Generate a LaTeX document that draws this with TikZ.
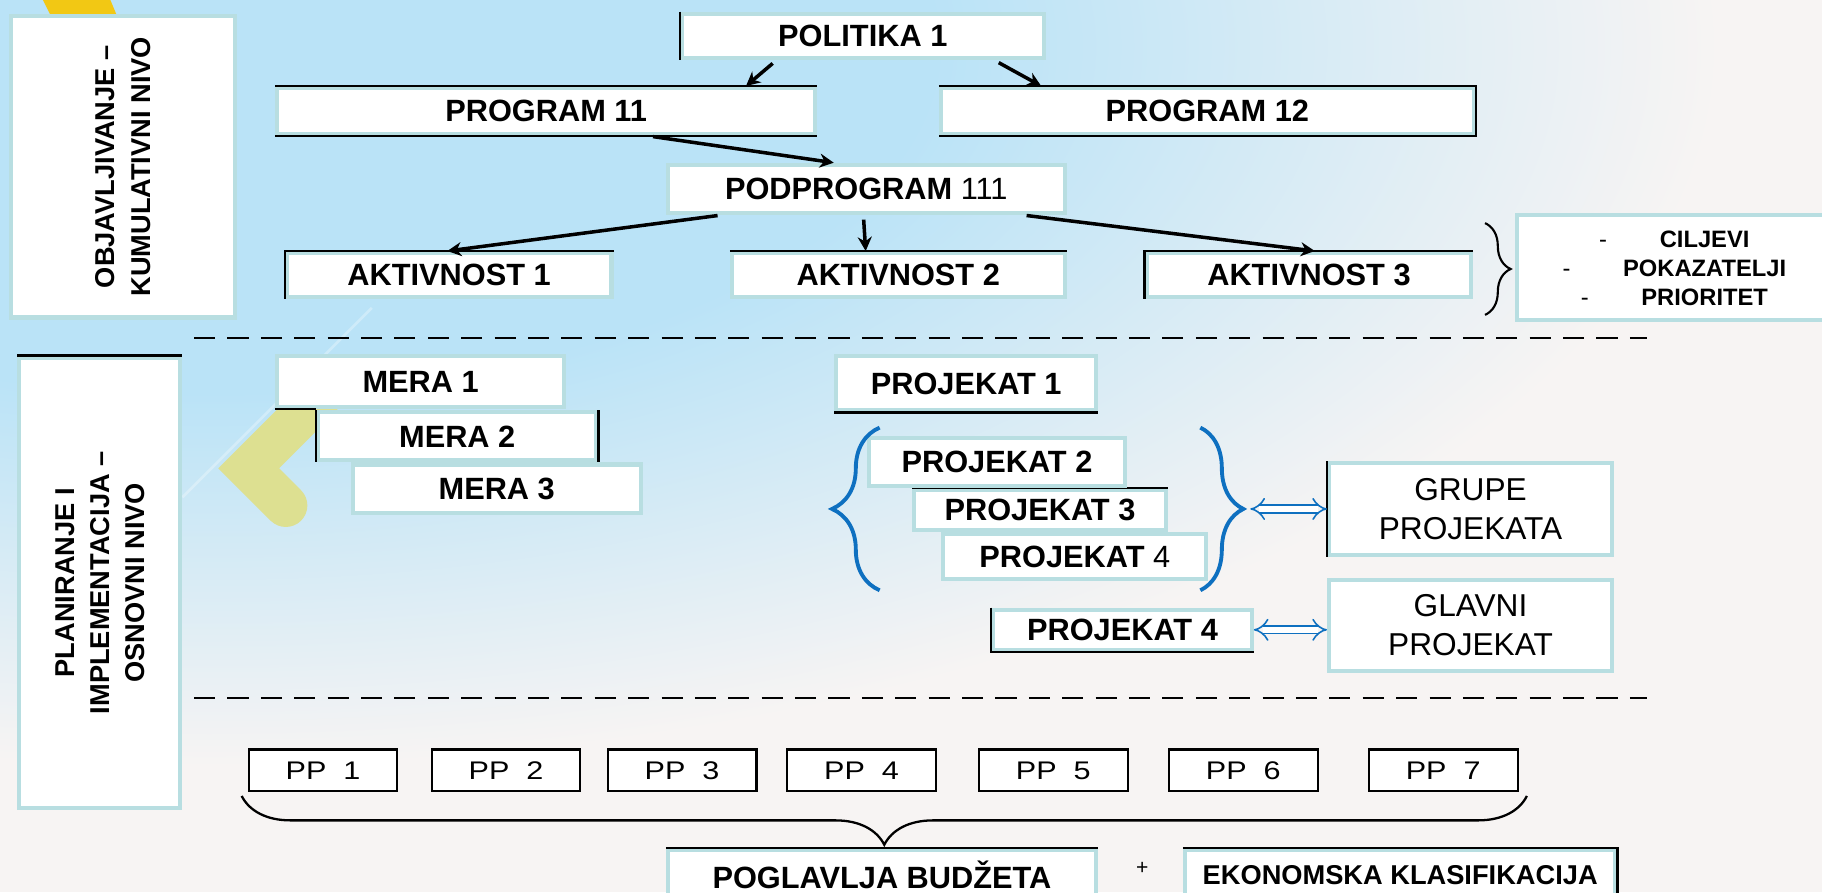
\documentclass[tikz,border=0pt]{standalone}
\usepackage{fontspec}
\setmainfont{Liberation Sans}
\newfontfamily\ppfont{Liberation Sans}[FakeStretch=1.2]
\usetikzlibrary{arrows.meta, decorations.pathreplacing}
\newlength\un
\setlength\un{0.02324cm}
\definecolor{rimteal}{RGB}{184,222,225}
\definecolor{bgblue}{RGB}{186,227,247}
\definecolor{bgpale}{RGB}{247,244,243}
\definecolor{braceblue}{RGB}{14,112,192}
\definecolor{chevron}{RGB}{221,224,145}
\definecolor{gold}{RGB}{242,200,20}
\pgfdeclareradialshading{bgglow}{\pgfpoint{0bp}{0bp}}{color(0bp)=(bgblue); color(12bp)=(bgblue); color(25bp)=(bgpale); color(50bp)=(bgpale)}

\begin{document}
\begin{tikzpicture}[x=\un, y=-\un,
    box/.style={draw=rimteal, line width=2.3pt, fill=white, inner sep=0pt, font=\fontsize{17.5}{20}\selectfont\bfseries},
    sidebox/.style={box, rotate=90, align=center, font=\fontsize{15.5}{20}\selectfont\bfseries},
    namebox/.style={box, align=center, font=\fontsize{18}{22}\selectfont},
    ppbox/.style={draw, line width=1.2pt, fill=white, minimum width=128\un, minimum height=36\un, inner sep=0pt, font=\ppfont\fontsize{14.5}{16}\selectfont},
    rim/.style={line width=1.3pt},
    arrow/.style={-{Stealth[length=8pt,width=8pt]}, line width=2pt, shorten <=4\un},
    sep/.style={line width=1.2pt, dash pattern=on 12pt off 7pt},
    curly/.style={decorate, decoration={brace, amplitude=#1}},
    dbl/.style={draw=braceblue, line width=0.9pt, double=white, double distance=3.5pt, {Implies}-{Implies}}
]
    \useasboundingbox (0,0) rectangle (1568,768);
    \clip (0,0) rectangle (1568,768);
    \fill[bgpale] (0,0) rectangle (1568,768);
    \shade[shading=bgglow] (180,40) ellipse (1300 and 620);
    \fill[gold] (37,0) -- (95,0) -- (100,12) -- (43,12) -- cycle;
    \draw[white, opacity=.3, line width=1.5pt] (157,428) -- (320,265);
    \draw[chevron, line width=37\un, line join=miter, line cap=round] (275,342) -- (214,403) -- (246,435);

    \node[sidebox, minimum width=259.5\un, minimum height=192.5\un] (obj) at (106,143.5) {OBJAVLJIVANJE --\\KUMULATIVNI NIVO};
    \node[sidebox, minimum width=387.5\un, minimum height=138.5\un] (plan) at (86,501.5) {PLANIRANJE I\\IMPLEMENTACIJA --\\OSNOVNI NIVO};

    \node[box, minimum width=311.5\un, minimum height=38.5\un] (pol) at (742.5,31) {POLITIKA 1};
    \node[box, minimum width=462.5\un, minimum height=39.5\un] (p11) at (470,95.5) {PROGRAM 11};
    \node[box, minimum width=458.5\un, minimum height=39.5\un] (p12) at (1039,95.5) {PROGRAM 12};
    \node[box, minimum width=341.5\un, minimum height=41.5\un] (pod) at (745.5,162.5) {PODPROGRAM {\mdseries 111}};
    \node[box, minimum width=279.5\un, minimum height=37.5\un] (a1) at (386.5,236.5) {AKTIVNOST 1};
    \node[box, minimum width=286.5\un, minimum height=37.5\un] (a2) at (773,236.5) {AKTIVNOST 2};
    \node[box, minimum width=279.5\un, minimum height=37.5\un] (a3) at (1126.5,236.5) {AKTIVNOST 3};
    \node[box, minimum width=312.5\un, minimum height=90.5\un] (goals) at (1462,230) {};
    \node[align=center, font=\fontsize{13.5}{16.5}\selectfont\bfseries] (goaltxt) at (1467,231)
        {\llap{\mdseries-\hspace{30pt}}CILJEVI\\\llap{\mdseries-\hspace{30pt}}POKAZATELJI\\\llap{\mdseries-\hspace{30pt}}PRIORITET};

    \node[box, minimum width=246.5\un, minimum height=43.5\un] (mera1) at (362,328.5) {MERA 1};
    \node[box, minimum width=239.5\un, minimum height=41.5\un] (mera2) at (393.5,375.5) {MERA 2};
    \node[box, minimum width=247.5\un, minimum height=41.5\un] (mera3) at (427.5,420.5) {MERA 3};

    \node[box, minimum width=223.5\un, minimum height=46.5\un] (pr1) at (831.5,330) {PROJEKAT 1};
    \node[box, minimum width=226.5\un, minimum height=38.5\un] (pr4) at (925,479) {PROJEKAT {\mdseries 4}};
    \node[box, minimum width=216.5\un, minimum height=34.5\un] (pr3) at (895,439) {PROJEKAT 3};
    \draw[rim] (pr3.north west) -- (pr3.north east);
    \node[box, minimum width=220.5\un, minimum height=41.5\un] (pr2) at (858,397.5) {PROJEKAT 2};
    \node[box, minimum width=222.5\un, minimum height=34.5\un] (pr4b) at (966,542) {PROJEKAT 4};
    \node[namebox, minimum width=243.5\un, minimum height=78.5\un] (grupe) at (1265.5,438) {GRUPE\\PROJEKATA};
    \node[namebox, minimum width=243.5\un, minimum height=78.5\un] (glavni) at (1265.5,538) {GLAVNI\\PROJEKAT};

    \foreach \i/\x in {1/278,2/435.5,3/587,4/741.5,5/906.5,6/1070,7/1242}
        \node[ppbox] (pp\i) at (\x,663) {PP\ \ \i};
    \node[box, minimum width=368.5\un, minimum height=42.5\un] (pogl) at (759,753) {POGLAVLJA BUDŽETA};
    \node[box, minimum width=370.5\un, minimum height=42.5\un, font=\fontsize{15.5}{18}\selectfont\bfseries] (ekon) at (1205,753) {EKONOMSKA KLASIFIKACIJA};
    \node[font=\fontsize{12}{14}\selectfont] (plus) at (983,747) {+};

    \draw[rim] (pol.north west) -- (pol.south west);
    \draw[rim] (p11.north west) -- (p11.north east) (p11.south west) -- (p11.south east);
    \draw[rim] (p12.north west) -- (p12.north east) -- (p12.south east) -- (p12.south west);
    \draw[rim] (a1.south west) -- (a1.north west) -- (a1.north east);
    \draw[rim] (a2.north west) -- (a2.north east);
    \draw[rim] (a3.south west) -- (a3.north west) -- (a3.north east);
    \draw[rim] (mera2.north west) -- (mera2.south west) (mera2.north east) -- (mera2.south east);
    \draw[rim] (mera1.south west) -- (mera1.south west -| mera2.west);
    \draw[rim] (pr1.south west) -- (pr1.south east);
    \draw[rim] (pr4b.north west) -- (pr4b.south west) -- (pr4b.south east);
    \draw[rim] (grupe.north west) -- (grupe.south west);
    \draw[rim] (pogl.north west) -- (pogl.north east);
    \draw[rim] (ekon.north west) -- (ekon.north east) -- (ekon.south east);
    \draw[rim] (plan.north east) -- (plan.south east);

    \draw[arrow] ([xshift=-74.5\un]pol.south) -- ([xshift=172\un]p11.north);
    \draw[arrow] ([xshift=113.5\un]pol.south) -- ([xshift=-143\un]p12.north);
    \draw[arrow] ([xshift=88\un]p11.south) -- ([xshift=-28\un]pod.north);
    \draw[arrow] ([xshift=-124\un]pod.south) -- ([xshift=-1.5\un]a1.north);
    \draw[arrow] ([xshift=-2.5\un]pod.south) -- ([xshift=-28\un]a2.north);
    \draw[arrow] ([xshift=134\un]pod.south) -- ([xshift=5\un]a3.north);

    \draw[sep] (167,291) -- (1417,291);
    \draw[sep] (167,601) -- (1417,601);

    \draw[line width=1.2pt, curly=22\un] (1278,192) -- (1278,271);
    \draw[braceblue, line width=2.2pt, curly=41\un] (757,508) -- (757,368);
    \draw[braceblue, line width=2.2pt, curly=37\un] (1033,368) -- (1033,508);
    \coordinate (gtip) at (1076,438);
    \draw[dbl] (gtip) -- (grupe.west);
    \draw[dbl] (pr4b.east) -- (pr4b.east -| glavni.west);

    \coordinate (bl) at (208,685);
    \coordinate (br) at (1314,685);
    \draw[line width=1.3pt, decorate, decoration={brace, mirror, amplitude=42\un}] (bl) -- (br);
\end{tikzpicture}
\end{document}
